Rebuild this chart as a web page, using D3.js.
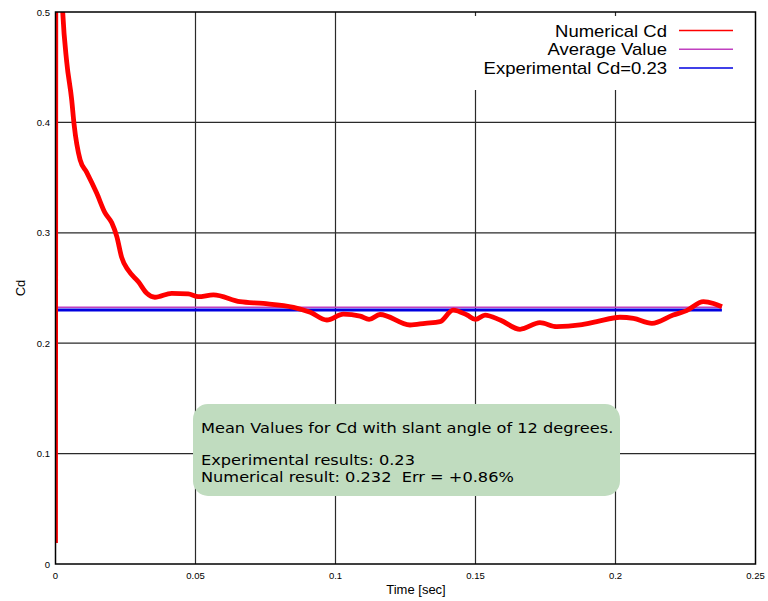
<!DOCTYPE html>
<html>
<head>
<meta charset="utf-8">
<script src="https://cdn.jsdelivr.net/npm/d3@7"></script>
<style>
  body { margin: 0; background: #fff; }
  text { font-family: "Liberation Sans", Arial, sans-serif; }
</style>
</head>
<body>
<div id="chart"></div>
<script>
// Numerical Cd history
const time = [0, 0.0002, 0.0026, 0.0040, 0.0058, 0.0066, 0.0088, 0.0111, 0.0147, 0.0177, 0.0201, 0.0219,
    0.0236, 0.0260, 0.0296, 0.0326, 0.0355, 0.0415, 0.0474, 0.0510, 0.0564, 0.0659, 0.0742,
    0.0850, 0.0910, 0.0969, 0.1028, 0.1088, 0.1120, 0.1159, 0.1266, 0.1320, 0.1373, 0.1420,
    0.1470, 0.1500, 0.1534, 0.1588, 0.1659, 0.1730, 0.1790, 0.1873, 0.1933, 0.2016, 0.2064,
    0.2130, 0.2206, 0.2254, 0.2314, 0.2350, 0.2380];
const cd = [0.019, 0.70, 0.499, 0.455, 0.420, 0.399, 0.366, 0.355, 0.336, 0.318, 0.309, 0.2965,
    0.278, 0.266, 0.2557, 0.2452, 0.2416, 0.2452, 0.2446, 0.2421, 0.2437, 0.2376, 0.236,
    0.2325, 0.228, 0.221, 0.2264, 0.2246, 0.2216, 0.226, 0.2165, 0.218, 0.2195, 0.230,
    0.2255, 0.2216, 0.2255, 0.221, 0.2126, 0.2186, 0.215, 0.2165, 0.2195, 0.2235, 0.2225,
    0.218, 0.2255, 0.2295, 0.2376, 0.236, 0.233];
const averageCd = 0.232;
const experimentalCd = 0.23;
const lineEnd = 0.238;
const xTicks = [0, 0.05, 0.1, 0.15, 0.2, 0.25];
const yTicks = [0, 0.1, 0.2, 0.3, 0.4, 0.5];
const legendLabels = ["Numerical Cd", "Average Value", "Experimental Cd=0.23"];
const legendColors = ["#ff0000", "#c040c0", "#0000e0"];
const noteLines = ["Mean Values for Cd with slant angle of 12 degrees.",
    "Experimental results: 0.23", "Numerical result: 0.232  Err = +0.86%"];

const width = 768, height = 601;
const plot = { left: 55.5, right: 755.5, top: 12, bottom: 564 };

const svg = d3.select("#chart").append("svg")
    .attr("width", width)
    .attr("height", height);

const x = d3.scaleLinear().domain([0, 0.25]).range([plot.left, plot.right]);
const y = d3.scaleLinear().domain([0, 0.5]).range([plot.bottom, plot.top]);

// grid
svg.append("g")
    .selectAll("line")
    .data(yTicks.slice(1, -1))
    .enter()
    .append("line")
    .attr("x1", plot.left).attr("x2", plot.right)
    .attr("y1", d => y(d)).attr("y2", d => y(d))
    .attr("stroke", "#2a2a2a").attr("stroke-width", 1.2);
svg.append("g")
    .selectAll("line")
    .data(xTicks.slice(1, -1))
    .enter()
    .append("line")
    .attr("x1", d => x(d)).attr("x2", d => x(d))
    .attr("y1", plot.top).attr("y2", plot.bottom)
    .attr("stroke", "#2a2a2a").attr("stroke-width", 1.2);

// legend background (hides the grid), keeping the small top ticks
svg.append("rect")
    .attr("x", 470).attr("y", plot.top + 4)
    .attr("width", plot.right - 470).attr("height", 74)
    .attr("fill", "#fff");

// tick labels
svg.append("g")
    .selectAll("text")
    .data(yTicks)
    .enter()
    .append("text")
    .attr("x", 50)
    .attr("y", d => y(d) + 3.5)
    .attr("text-anchor", "end")
    .style("font-size", "9.5px")
    .text(d => d);
svg.append("g")
    .selectAll("text")
    .data(xTicks)
    .enter()
    .append("text")
    .attr("x", d => x(d))
    .attr("y", 579)
    .attr("text-anchor", "middle")
    .style("font-size", "9.5px")
    .text(d => d);

// axis titles
svg.append("text")
    .attr("x", 416)
    .attr("y", 594)
    .attr("text-anchor", "middle")
    .style("font-size", "13px")
    .text("Time [sec]");
svg.append("text")
    .attr("transform", "translate(25, 288) rotate(-90)")
    .attr("text-anchor", "middle")
    .style("font-size", "13px")
    .text("Cd");

// clip for data
svg.append("clipPath").attr("id", "clip")
    .append("rect")
    .attr("x", plot.left).attr("y", plot.top)
    .attr("width", plot.right - plot.left).attr("height", plot.bottom - plot.top);

// average and experimental lines
svg.append("line")
    .attr("x1", x(0)).attr("x2", x(lineEnd))
    .attr("y1", y(averageCd) - 0.7).attr("y2", y(averageCd) - 0.7)
    .attr("stroke", legendColors[1]).attr("stroke-width", 1.5);
svg.append("line")
    .attr("x1", x(0)).attr("x2", x(lineEnd))
    .attr("y1", y(experimentalCd)).attr("y2", y(experimentalCd))
    .attr("stroke", legendColors[2]).attr("stroke-width", 3);

// numerical Cd curve
const data = time.map((t, i) => ({ t: t, v: cd[i] }));
const line = d3.line()
    .x(d => x(d.t))
    .y(d => y(d.v))
    .curve(d3.curveMonotoneX);
svg.append("path")
    .datum(data)
    .attr("clip-path", "url(#clip)")
    .attr("d", line)
    .attr("fill", "none")
    .attr("stroke", legendColors[0])
    .attr("stroke-width", 4.8)
    .attr("stroke-linejoin", "round");

// frame
svg.append("rect")
    .attr("x", plot.left).attr("y", plot.top)
    .attr("width", plot.right - plot.left).attr("height", plot.bottom - plot.top)
    .attr("fill", "none").attr("stroke", "#000").attr("stroke-width", 1.5);

// legend (slightly widened glyphs, like the gnuplot font)
const legend = svg.append("g").attr("class", "legend");
legend.selectAll("text")
    .data(legendLabels)
    .enter()
    .append("text")
    .attr("transform", (d, i) => `translate(667, ${36.5 + i * 18.6}) scale(1.156, 1)`)
    .attr("text-anchor", "end")
    .style("font-size", "16px")
    .text(d => d);
legend.selectAll("line")
    .data(legendColors)
    .enter()
    .append("line")
    .attr("x1", 679).attr("x2", 733)
    .attr("y1", (d, i) => 30.5 + i * 18.8)
    .attr("y2", (d, i) => 30.5 + i * 18.8)
    .attr("stroke", d => d)
    .attr("stroke-width", 1.5);

// annotation box
svg.append("rect")
    .attr("x", 193).attr("y", 404)
    .attr("width", 427).attr("height", 92)
    .attr("rx", 15).attr("ry", 15)
    .attr("fill", "#c0dcbf");
svg.append("g")
    .selectAll("text")
    .data(noteLines)
    .enter()
    .append("text")
    .attr("transform", (d, i) => `translate(201, ${i === 0 ? 433 : 448.4 + i * 16.9}) scale(1.133, 1)`)
    .attr("xml:space", "preserve")
    .style("white-space", "pre")
    .style("font-family", "'DejaVu Sans', sans-serif")
    .style("font-size", "14.3px")
    .text(d => d);
</script>
</body>
</html>
